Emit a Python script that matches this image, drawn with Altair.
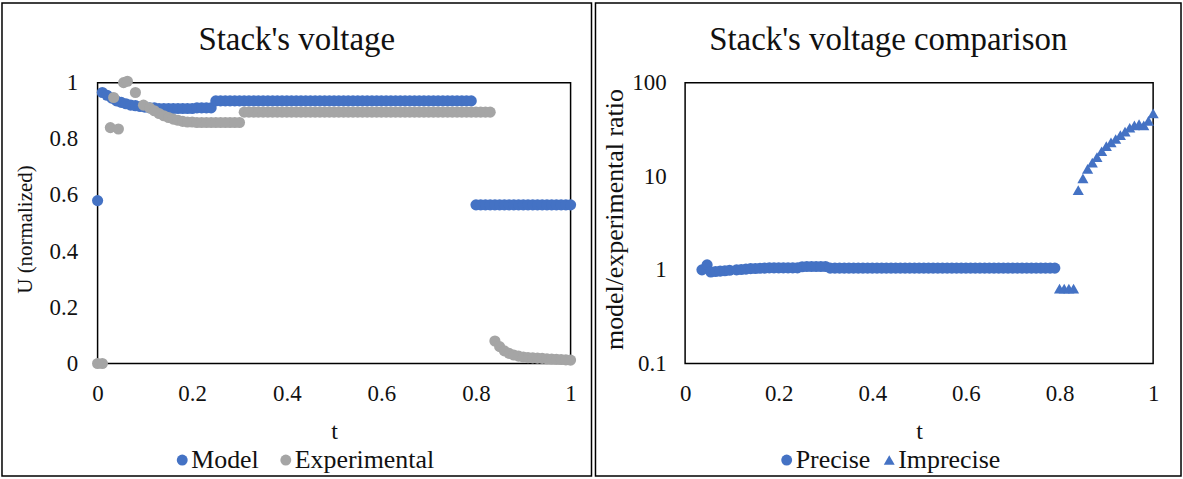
import altair as alt
import pandas as pd

FONT = "Liberation Serif"
BLUE = "#4472C4"
GRAY = "#A5A5A5"
INK = "#111111"

# ---------------- left panel: Stack's voltage ----------------
model_t = [0.00, 0.01, 0.02, 0.03, 0.04, 0.05, 0.06, 0.07, 0.08, 0.09,
           0.10, 0.11, 0.12, 0.13, 0.14, 0.15, 0.16, 0.17, 0.18, 0.19,
           0.20, 0.21, 0.22, 0.23, 0.24, 0.25, 0.26, 0.27, 0.28, 0.29,
           0.30, 0.31, 0.32, 0.33, 0.34, 0.35, 0.36, 0.37, 0.38, 0.39,
           0.40, 0.41, 0.42, 0.43, 0.44, 0.45, 0.46, 0.47, 0.48, 0.49,
           0.50, 0.51, 0.52, 0.53, 0.54, 0.55, 0.56, 0.57, 0.58, 0.59,
           0.60, 0.61, 0.62, 0.63, 0.64, 0.65, 0.66, 0.67, 0.68, 0.69,
           0.70, 0.71, 0.72, 0.73, 0.74, 0.75, 0.76, 0.77, 0.78, 0.79,
           0.80, 0.81, 0.82, 0.83, 0.84, 0.85, 0.86, 0.87, 0.88, 0.89,
           0.90, 0.91, 0.92, 0.93, 0.94, 0.95, 0.96, 0.97, 0.98, 0.99,
           1.00]
model_u = [0.58, 0.965, 0.955, 0.945, 0.935, 0.93, 0.925, 0.92, 0.918, 0.915,
           0.913, 0.91, 0.91, 0.908, 0.908, 0.908, 0.908, 0.908, 0.908, 0.908,
           0.908, 0.91, 0.91, 0.91, 0.91, 0.935, 0.935, 0.935, 0.935, 0.935,
           0.935, 0.935, 0.935, 0.935, 0.935, 0.935, 0.935, 0.935, 0.935, 0.935,
           0.935, 0.935, 0.935, 0.935, 0.935, 0.935, 0.935, 0.935, 0.935, 0.935,
           0.935, 0.935, 0.935, 0.935, 0.935, 0.935, 0.935, 0.935, 0.935, 0.935,
           0.935, 0.935, 0.935, 0.935, 0.935, 0.935, 0.935, 0.935, 0.935, 0.935,
           0.935, 0.935, 0.935, 0.935, 0.935, 0.935, 0.935, 0.935, 0.935, 0.935,
           0.565, 0.565, 0.565, 0.565, 0.565, 0.565, 0.565, 0.565, 0.565, 0.565,
           0.565, 0.565, 0.565, 0.565, 0.565, 0.565, 0.565, 0.565, 0.565, 0.565,
           0.565]

exp_t = [0.00, 0.01, 0.027, 0.034, 0.044, 0.055, 0.063, 0.08, 0.097,
         0.11, 0.12, 0.13, 0.14, 0.15, 0.16, 0.17, 0.18, 0.19,
         0.20, 0.21, 0.22, 0.23, 0.24, 0.25, 0.26, 0.27, 0.28, 0.29,
         0.30, 0.31, 0.32, 0.33, 0.34, 0.35, 0.36, 0.37, 0.38, 0.39,
         0.40, 0.41, 0.42, 0.43, 0.44, 0.45, 0.46, 0.47, 0.48, 0.49,
         0.50, 0.51, 0.52, 0.53, 0.54, 0.55, 0.56, 0.57, 0.58, 0.59,
         0.60, 0.61, 0.62, 0.63, 0.64, 0.65, 0.66, 0.67, 0.68, 0.69,
         0.70, 0.71, 0.72, 0.73, 0.74, 0.75, 0.76, 0.77, 0.78, 0.79,
         0.80, 0.81, 0.82, 0.83, 0.84, 0.85, 0.86, 0.87, 0.88, 0.89,
         0.90, 0.91, 0.92, 0.93, 0.94, 0.95, 0.96, 0.97, 0.98, 0.99,
         1.00]
exp_u = [0.0, 0.0, 0.84, 0.947, 0.835, 1.0, 1.005, 0.965, 0.92,
         0.91, 0.90, 0.89, 0.882, 0.876, 0.87, 0.866, 0.862, 0.86,
         0.86, 0.858, 0.858, 0.858, 0.858, 0.858, 0.858, 0.858, 0.858, 0.858,
         0.858, 0.895, 0.895, 0.895, 0.895, 0.895, 0.895, 0.895, 0.895, 0.895,
         0.895, 0.895, 0.895, 0.895, 0.895, 0.895, 0.895, 0.895, 0.895, 0.895,
         0.895, 0.895, 0.895, 0.895, 0.895, 0.895, 0.895, 0.895, 0.895, 0.895,
         0.895, 0.895, 0.895, 0.895, 0.895, 0.895, 0.895, 0.895, 0.895, 0.895,
         0.895, 0.895, 0.895, 0.895, 0.895, 0.895, 0.895, 0.895, 0.895, 0.895,
         0.895, 0.895, 0.895, 0.895, 0.08, 0.06, 0.045, 0.036, 0.03, 0.026,
         0.023, 0.021, 0.02, 0.019, 0.018, 0.017, 0.016, 0.015, 0.014, 0.013,
         0.012]

# ---------------- right panel: ratio ----------------
prec_t = [0.036, 0.047, 0.055, 0.065, 0.075, 0.085, 0.095,
          0.11, 0.12, 0.13, 0.14, 0.15, 0.16, 0.17, 0.18, 0.19,
          0.20, 0.21, 0.22, 0.23, 0.24, 0.25, 0.26, 0.27, 0.28, 0.29,
          0.30, 0.31, 0.32, 0.33, 0.34, 0.35, 0.36, 0.37, 0.38, 0.39,
          0.40, 0.41, 0.42, 0.43, 0.44, 0.45, 0.46, 0.47, 0.48, 0.49,
          0.50, 0.51, 0.52, 0.53, 0.54, 0.55, 0.56, 0.57, 0.58, 0.59,
          0.60, 0.61, 0.62, 0.63, 0.64, 0.65, 0.66, 0.67, 0.68, 0.69,
          0.70, 0.71, 0.72, 0.73, 0.74, 0.75, 0.76, 0.77, 0.78, 0.79]
prec_r = [1.0, 1.13, 0.95, 0.96, 0.97, 0.98, 0.99,
          1.0, 1.01, 1.02, 1.03, 1.035, 1.04, 1.045, 1.05, 1.05,
          1.05, 1.05, 1.05, 1.05, 1.05, 1.08, 1.085, 1.085, 1.085, 1.085,
          1.085, 1.045, 1.045, 1.045, 1.045, 1.045, 1.045, 1.045, 1.045, 1.045,
          1.045, 1.045, 1.045, 1.045, 1.045, 1.045, 1.045, 1.045, 1.045, 1.045,
          1.045, 1.045, 1.045, 1.045, 1.045, 1.045, 1.045, 1.045, 1.045, 1.045,
          1.045, 1.045, 1.045, 1.045, 1.045, 1.045, 1.045, 1.045, 1.045, 1.045,
          1.045, 1.045, 1.045, 1.045, 1.045, 1.045, 1.045, 1.045, 1.045, 1.045]

imp_t = [0.80, 0.81, 0.82, 0.83, 0.84, 0.85, 0.86, 0.87, 0.88, 0.89,
         0.90, 0.91, 0.92, 0.93, 0.94, 0.95, 0.96, 0.97, 0.98, 0.99, 1.00]
imp_r = [0.63, 0.63, 0.63, 0.63, 7.1, 9.5, 12.0, 14.0, 16.0, 18.5,
         21.0, 23.0, 25.0, 27.5, 30.0, 33.0, 35.0, 36.0, 35.0, 39.0, 47.0]

left_df = pd.DataFrame({
    "t": model_t + exp_t,
    "U": model_u + exp_u,
    "series": ["Model"] * len(model_t) + ["Experimental"] * len(exp_t),
    "k": list(range(len(model_t) + len(exp_t))),
})
right_df = pd.DataFrame({
    "t": prec_t + imp_t,
    "r": prec_r + imp_r,
    "kind": ["Precise"] * len(prec_t) + ["Imprecise"] * len(imp_t),
})

W1, W2, H = 475, 470, 282
ticks01 = [0, 0.2, 0.4, 0.6, 0.8, 1]


def axis(title, values, title_size=24, **kw):
    return alt.Axis(title=title, values=values, format="~g", ticks=False, tickSize=0,
                    domain=False, grid=False, labelFlush=False, labelOverlap=False,
                    labelFont=FONT, labelFontSize=23,
                    labelColor=INK, titleFont=FONT, titleFontSize=title_size,
                    titleFontWeight="normal", titleColor=INK, **kw)


def legend(x, y, pad):
    return alt.Legend(title=None, orient="none", legendX=x, legendY=y,
                      direction="horizontal", symbolSize=120, symbolStrokeWidth=0,
                      labelFont=FONT, labelFontSize=26, labelColor=INK,
                      columnPadding=pad, labelOffset={"expr": "-4"}, padding=0)


border = pd.DataFrame({"b": [0]})

left_border = alt.Chart(border).mark_rect(
    fillOpacity=0, stroke="black", strokeWidth=1.5
).encode(x=alt.value(-96), x2=alt.value(496), y=alt.value(-80), y2=alt.value(395))

left_pts = alt.Chart(left_df).mark_circle(size=125, opacity=1).encode(
    x=alt.X("t:Q", scale=alt.Scale(domain=[0, 1], nice=False),
            axis=axis("t", ticks01, labelPadding=19, titleX=W1 / 2, titleY=68,
                      titleBaseline="middle")),
    y=alt.Y("U:Q", scale=alt.Scale(domain=[0, 1], nice=False),
            axis=axis("U (normalized)", ticks01, title_size=21, labelPadding=20,
                      titleX=-72, titleY=147, titleBaseline="middle")),
    color=alt.Color("series:N",
                    scale=alt.Scale(domain=["Model", "Experimental"], range=[BLUE, GRAY]),
                    legend=legend(72, 366, 14)),
    order=alt.Order("k:Q"),
)

left = alt.layer(left_border, left_pts).properties(
    width=W1, height=H,
    title=alt.TitleParams("Stack's voltage", font=FONT, fontSize=33, fontWeight="normal",
                          color=INK, anchor="middle", frame="bounds", offset=-81,
                          baseline="alphabetic"),
)

right_border = alt.Chart(border).mark_rect(
    fillOpacity=0, stroke="black", strokeWidth=1.5
).encode(x=alt.value(-90), x2=alt.value(498), y=alt.value(-80), y2=alt.value(395))

right_pts = alt.Chart(right_df).mark_point(filled=True, size=125, opacity=1, color=BLUE).encode(
    x=alt.X("t:Q", scale=alt.Scale(domain=[0, 1], nice=False),
            axis=axis("t", ticks01, labelPadding=19, titleX=W2 / 2, titleY=68,
                      titleBaseline="middle")),
    y=alt.Y("r:Q", scale=alt.Scale(type="log", domain=[0.1, 100], nice=False),
            axis=axis("model/experimental ratio", [0.1, 1, 10, 100], title_size=26,
                      labelPadding=19, titleX=-71, titleY=137, titleBaseline="middle")),
    shape=alt.Shape("kind:N",
                    scale=alt.Scale(domain=["Precise", "Imprecise"],
                                    range=["circle", "triangle-up"]),
                    legend=legend(89, 366, 5)),
)

right = alt.layer(right_border, right_pts).properties(
    width=W2, height=H,
    title=alt.TitleParams("Stack's voltage comparison", font=FONT, fontSize=33,
                          fontWeight="normal", color=INK, anchor="middle",
                          frame="bounds", offset=-81, baseline="alphabetic"),
)

chart = alt.hconcat(left, right, spacing=0).resolve_legend(
    color="independent", shape="independent"
).resolve_scale(
    color="independent", shape="independent"
).properties(
    padding=0, background="white"
).configure(
    font=FONT
).configure_view(
    stroke="black", strokeWidth=1.5
).configure_legend(
    labelFont=FONT, labelFontSize=26, labelColor=INK, symbolFillColor=BLUE
)

chart.save("out.html", embed_options={"renderer": "svg", "actions": False})
